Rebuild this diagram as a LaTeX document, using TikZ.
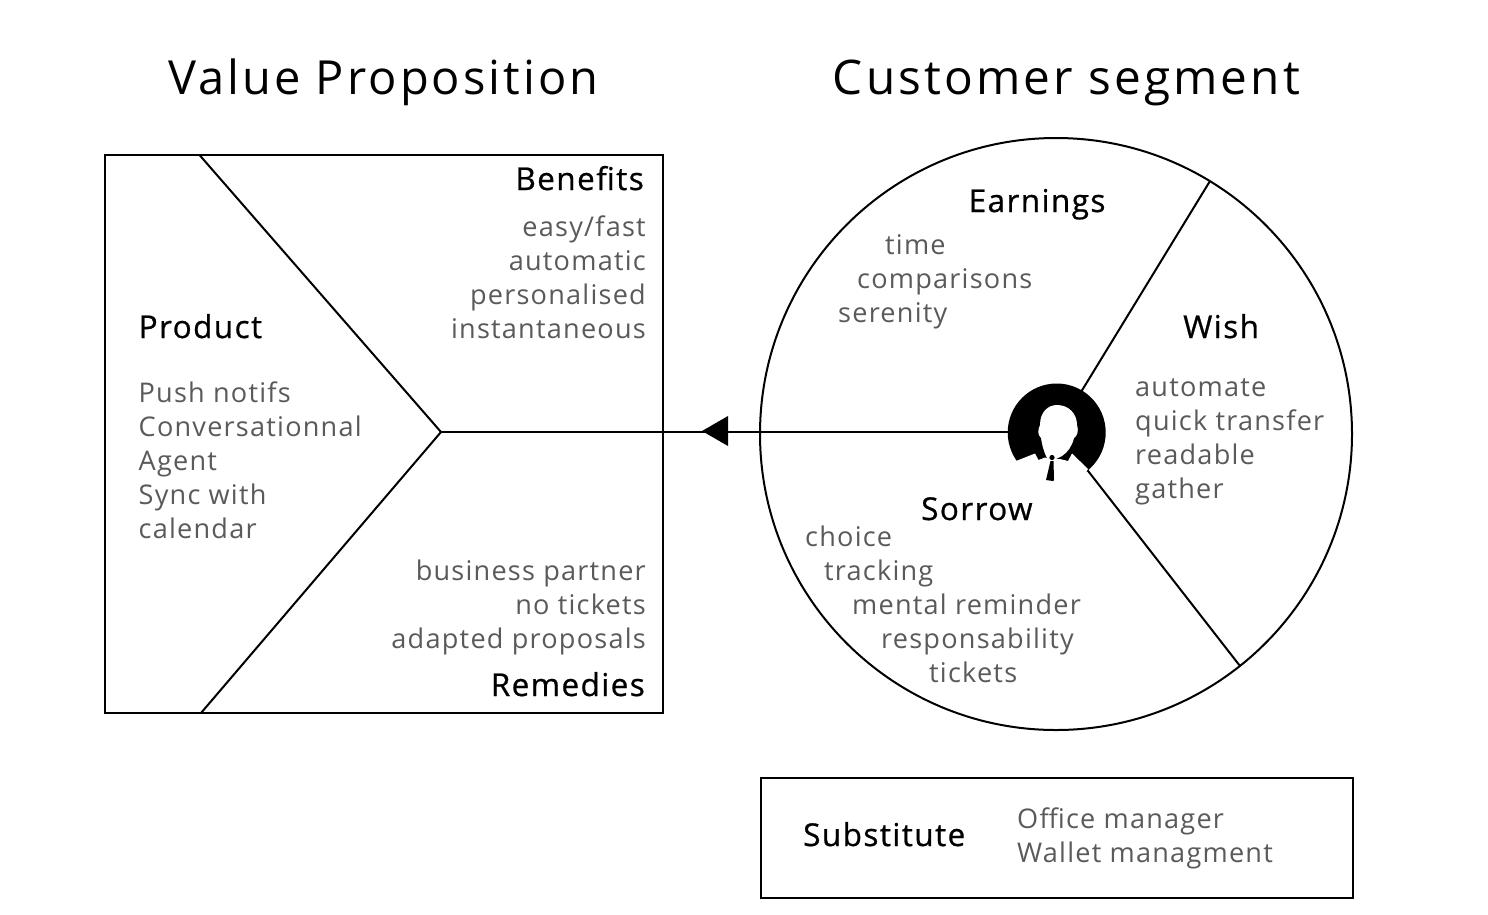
\documentclass[tikz,border=0pt]{standalone}
\usepackage{fontspec}
\setmainfont{Open Sans}
\newfontfamily\itmfont[LetterSpace=4.5]{Open Sans}
\newfontfamily\lblfont[LetterSpace=4.5,FakeBold=0.7]{Open Sans}
\newfontfamily\ttlfont[LetterSpace=6.5]{Open Sans}
\definecolor{greytxt}{HTML}{5A5A5A}
\tikzset{
 ttl/.style={inner sep=0pt,anchor=base,font=\ttlfont\fontsize{47}{47}\selectfont,text=black},
 ttlb/.style={inner sep=0pt,anchor=base,font=\ttlfont\fontsize{47.7}{47}\selectfont,text=black},
 lbl/.style={inner sep=0pt,font=\lblfont\fontsize{31.5}{34}\selectfont,text=black},
 itm/.style={inner sep=0pt,font=\itmfont\fontsize{27.1}{34}\selectfont,text=greytxt},
 ln/.style={draw=black,line width=2pt},
}
\begin{document}
\begin{tikzpicture}[x=1pt,y=-1pt]
\useasboundingbox (0,0) rectangle (1488,914);
\fill[white] (0,0) rectangle (1488,914);
% titles
\node[ttl] (t1) at (383.5,94) {Value Proposition};
\node[ttlb] (t2) at (1066.5,94) {Customer segment};
% left canvas
\node[ln,minimum width=558pt,minimum height=558pt,inner sep=0pt,anchor=north west] (vp) at (104,154) {};
\coordinate (a) at (199.5,155);
\coordinate (b) at (201,713);
\coordinate (c) at (441,432);
\coordinate (h) at (1008,432);
\draw[ln] (a) -- (c) -- (b);
\draw[ln] (c) -- (h);
\coordinate (tip) at (702,431);
\fill[black] (tip) -- (728,416) -- (728,446) -- cycle;
% circle
\node[ln,circle,minimum size=592pt,inner sep=0pt] (seg) at (1056,434) {};
\coordinate (u1) at (1081,392);\coordinate (u2) at (1210,181);
\coordinate (d1) at (1085,467);\coordinate (d2) at (1240,666);
\draw[ln] (u1) -- (u2);
\draw[ln] (d1) -- (d2);
% person icon
\node[circle,fill=black,minimum size=98pt,inner sep=0pt] (icon) at (1056.7,432.5) {};
\fill[white] (1016,461) -- (1035,453.5) -- (1038.5,460) -- (1045,457.5) -- (1052,459) -- (1060,459) -- (1068,461) -- (1072,453.5) -- (1088,469) -- (1075,490) -- (1030,490) -- cycle;
\fill[white] (1047,458) .. controls (1043,450) and (1042,444) .. (1041,438) .. controls (1037,434) and (1038,430) .. (1040,425) .. controls (1040,412) and (1048,405) .. (1057,405) .. controls (1068,405) and (1077,413) .. (1077,425) .. controls (1079,432) and (1077,436) .. (1074,438) .. controls (1072,446) and (1068,452) .. (1062,456) -- (1054,460) -- cycle;
\fill[black] (1052,457.5) circle (2.6);
\fill[black] (1050.5,461) -- (1053.5,461) -- (1054,480) -- (1053,481) -- (1046,480) -- cycle;
% left texts
\node[lbl,anchor=base east] (n1) at (644,190) {Benefits};
\node[itm,anchor=base east] (n2) at (646,236) {easy/fast};
\node[itm,anchor=base east] (n3) at (646,270) {automatic};
\node[itm,anchor=base east] (n4) at (646,304) {personalised};
\node[itm,anchor=base east] (n5) at (646,338) {instantaneous};
\node[lbl,anchor=base west] (n6) at (138.5,338) {Product};
\node[itm,anchor=base west] (n7) at (138.5,402) {Push notifs};
\node[itm,anchor=base west] (n8) at (138.5,436) {Conversationnal};
\node[itm,anchor=base west] (n9) at (138.5,470) {Agent};
\node[itm,anchor=base west] (n10) at (138.5,504) {Sync with};
\node[itm,anchor=base west] (n11) at (138.5,538) {calendar};
\node[itm,anchor=base east] (n12) at (646,580) {business partner};
\node[itm,anchor=base east] (n13) at (646,614) {no tickets};
\node[itm,anchor=base east] (n14) at (646,648) {adapted proposals};
\node[lbl,anchor=base east] (n15) at (645,696) {Remedies};
% right texts
\node[lbl,anchor=base west] (m1) at (968.5,212) {Earnings};
\node[itm,anchor=base west] (m2) at (885,254) {time};
\node[itm,anchor=base west] (m3) at (857,288) {comparisons};
\node[itm,anchor=base west] (m4) at (838,322) {serenity};
\node[lbl,anchor=base west] (m5) at (1183,338) {Wish};
\node[itm,anchor=base west] (m6) at (1135,396) {automate};
\node[itm,anchor=base west] (m7) at (1135,430) {quick transfer};
\node[itm,anchor=base west] (m8) at (1135,464) {readable};
\node[itm,anchor=base west] (m9) at (1135,498) {gather};
\node[lbl,anchor=base west] (m10) at (921,520) {Sorrow};
\node[itm,anchor=base west] (m11) at (805,546) {choice};
\node[itm,anchor=base west] (m12) at (824,580) {tracking};
\node[itm,anchor=base west] (m13) at (852,614) {mental reminder};
\node[itm,anchor=base west] (m14) at (881,648) {responsability};
\node[itm,anchor=base west] (m15) at (929,682) {tickets};
% substitute
\node[ln,minimum width=592pt,minimum height=120pt,inner sep=0pt,anchor=north west] (sub) at (760,777) {};
\node[lbl,anchor=base west] (s1) at (803,846) {Substitute};
\node[itm,anchor=base west] (s2) at (1017,828) {Office manager};
\node[itm,anchor=base west] (s3) at (1017,862) {Wallet managment};
\end{tikzpicture}
\end{document}
